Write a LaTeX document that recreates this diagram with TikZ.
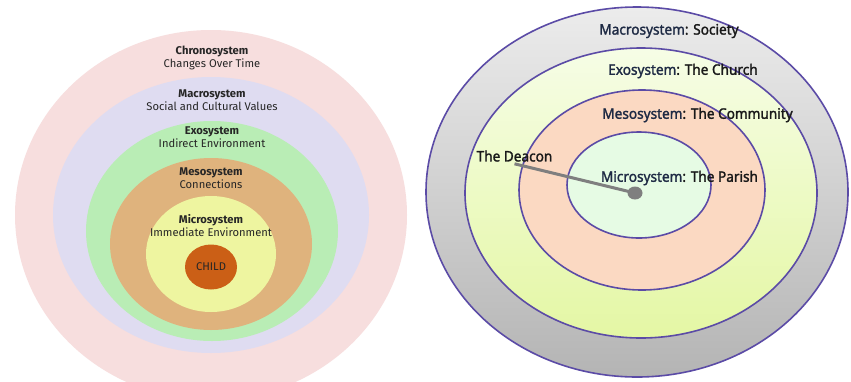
\documentclass[tikz,border=0pt]{standalone}
\usepackage{fontspec}
\usetikzlibrary{shapes.geometric}
\setmainfont{Fira Sans}
\newfontfamily\rfont[FakeStretch=0.94,FakeBold=1.6]{Noto Sans}
\definecolor{cPink}{HTML}{F7DEDE}
\definecolor{cLav}{HTML}{DFDCF1}
\definecolor{cGreen}{HTML}{B9EDB5}
\definecolor{cTan}{HTML}{DFB37D}
\definecolor{cYel}{HTML}{EEF5A0}
\definecolor{cChild}{HTML}{CB5F16}
\definecolor{cBord}{HTML}{5B4BA6}
\definecolor{cGrayT}{HTML}{ECECEC}
\definecolor{cGrayB}{HTML}{B4B4B4}
\definecolor{cYgT}{HTML}{F6FDE6}
\definecolor{cYgB}{HTML}{E4F7A4}
\definecolor{cPeach}{HTML}{FBD9C2}
\definecolor{cMint}{HTML}{E6FBE4}
\definecolor{cNavy}{HTML}{1E2A44}
\definecolor{cLine}{HTML}{7F7F7F}
\tikzset{
  lab/.style={align=center,font=\fontsize{11.2}{13}\selectfont,text=black!85},
  rring/.style={draw=cBord,line width=1.6pt},
  rlab/.style={font=\rfont\fontsize{14.5}{16}\selectfont,text=black!90,inner sep=0pt},
}
\begin{document}
\begin{tikzpicture}[x=1pt,y=-1pt]
\useasboundingbox (0,0) rectangle (851,381);
\fill[white] (0,0) rectangle (851,381);
\begin{scope}
\clip (0,0) rectangle (851,381);
% ---- left diagram ----
\fill[cPink] (211,215) ellipse [x radius=196,y radius=185];
\fill[cLav] (211,215) ellipse [x radius=158,y radius=138];
\fill[cGreen] (212,231) ellipse [x radius=126,y radius=110];
\fill[cTan] (211,244) ellipse [x radius=101,y radius=86];
\fill[cYel] (211,254) ellipse [x radius=65,y radius=58];
\fill[cChild] (211,267) ellipse [x radius=26,y radius=22.5];
\end{scope}
\node[lab] (chrono) at (212,57.5) {\textbf{Chronosystem}\\Changes Over Time};
\node[lab] (macroL) at (212,100.5) {\textbf{Macrosystem}\\Social and Cultural Values};
\node[lab] (exoL) at (212,137.5) {\textbf{Exosystem}\\Indirect Environment};
\node[lab] (mesoL) at (211,178.5) {\textbf{Mesosystem}\\Connections};
\node[lab] (microL) at (211,225.5) {\textbf{Microsystem}\\Immediate Environment};
\node[lab] (child) at (211,266.5) {CHILD};
% ---- right diagram ----
\draw[rring,top color=cGrayT,bottom color=cGrayB] (637,192) ellipse [x radius=211,y radius=185];
\draw[rring,top color=cYgT,bottom color=cYgB] (641,193) ellipse [x radius=176,y radius=145];
\draw[rring,fill=cPeach] (642,190) ellipse [x radius=123,y radius=100];
\draw[rring,fill=cMint] (639,185) ellipse [x radius=72,y radius=53];
\node[rlab] (macroR) at (669,31) {\textcolor{cNavy}{Macrosystem}: Society};
\node[rlab] (exoR) at (683,71) {\textcolor{cNavy}{Exosystem}: The Church};
\node[rlab] (mesoR) at (697.5,115) {\textcolor{cNavy}{Mesosystem}: The Community};
\node[rlab] (deacon) at (514.5,156) {The Deacon};
\node[fill=cLine,ellipse,minimum width=15pt,minimum height=13pt,inner sep=0pt] (dot) at (635,193) {};
\draw[cLine,line width=3pt] ([yshift=-2pt]deacon.south) -- (dot.center);
\node[rlab] (microR) at (679.5,178) {\textcolor{cNavy}{Microsystem}: The Parish};
\end{tikzpicture}
\end{document}
